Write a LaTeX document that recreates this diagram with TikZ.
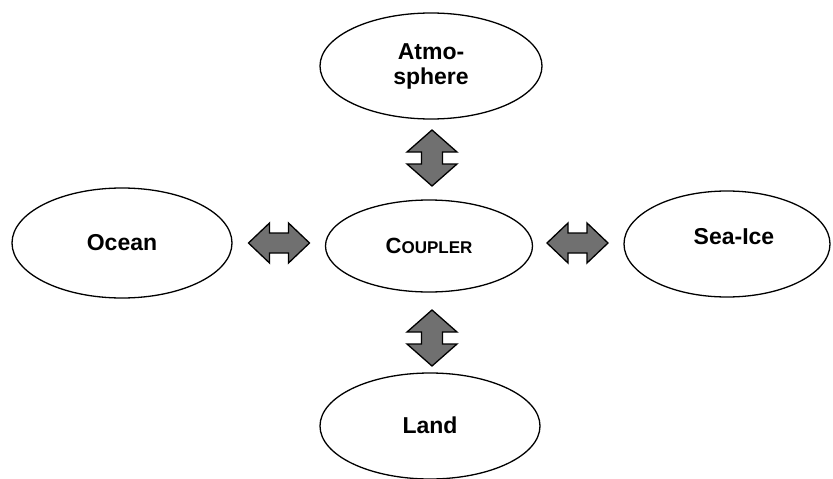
\documentclass[tikz,border=0pt]{standalone}
\usepackage{fontspec}
\setmainfont{Liberation Sans}
\usetikzlibrary{shapes.geometric}
\definecolor{arrowgray}{RGB}{112,112,112}
\tikzset{
  model/.style={draw=black, line width=1.3pt, ellipse, inner sep=0pt, fill=white,
    font=\fontsize{23}{26}\selectfont\bfseries, align=center},
  blockarrow/.style={draw=black, line width=1.3pt, fill=arrowgray, line join=miter},
  varrow/.pic={\path[blockarrow] (0,-28) -- (25,-6) -- (10.5,-6) -- (10.5,6) -- (25,6) -- (0,28)
      -- (-25,6) -- (-10.5,6) -- (-10.5,-6) -- (-25,-6) -- cycle;},
  harrow/.pic={\path[blockarrow] (-30.5,0) -- (-9.5,-20) -- (-9.5,-10) -- (9.5,-10) -- (9.5,-20) -- (30.5,0)
      -- (9.5,20) -- (9.5,10) -- (-9.5,10) -- (-9.5,20) -- cycle;}
}
\begin{document}
\begin{tikzpicture}[x=1pt,y=-1pt]
\useasboundingbox (0,0) rectangle (833,479);
\node[model, minimum width=222pt, minimum height=106pt] (atm) at (431,66) {Atmo-\\[-1pt]sphere};
\node[model, minimum width=207pt, minimum height=92pt] (cpl) at (429,246)
  {{\fontsize{22}{26}\selectfont C}{\fontsize{17}{20}\selectfont OUPLER}};
\node[model, minimum width=220pt, minimum height=110pt] (ocean) at (122,243) {\raisebox{-3pt}{Ocean}};
\node[model, minimum width=206pt, minimum height=106pt] (ice) at (727,244) {\hspace*{14pt}\raisebox{0pt}[0pt][0pt]{Sea-Ice}};
\node[model, minimum width=220pt, minimum height=106pt] (land) at (430,426) {\raisebox{1pt}{Land}};
\coordinate (a1) at (432,158);
\coordinate (a2) at (432,338);
\coordinate (a3) at (279,243);
\coordinate (a4) at (577.5,243);
\pic at (a1) {varrow};
\pic at (a2) {varrow};
\pic at (a3) {harrow};
\pic at (a4) {harrow};
\end{tikzpicture}
\end{document}
